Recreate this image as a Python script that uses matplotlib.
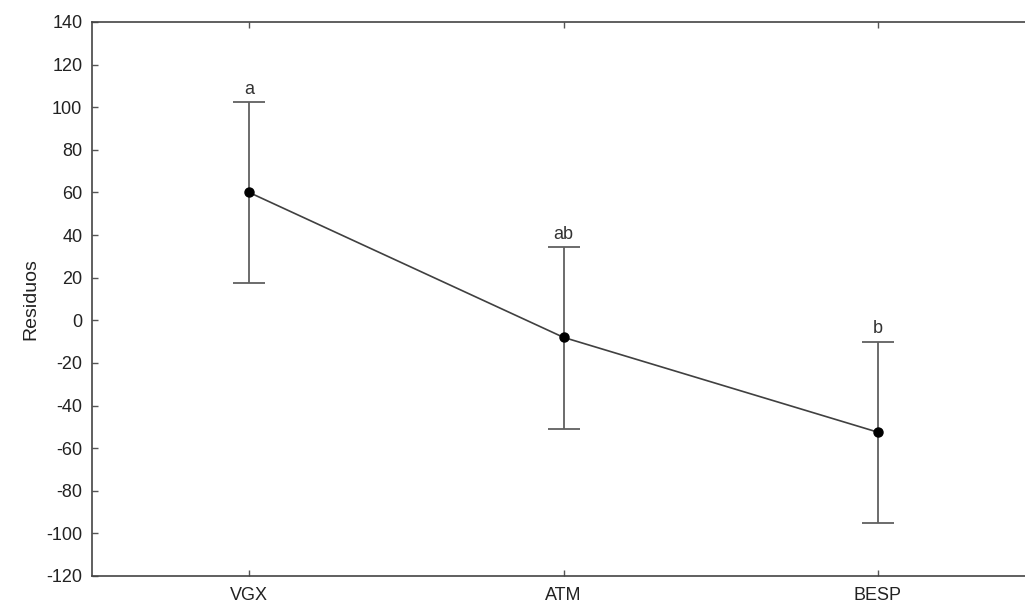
import matplotlib.pyplot as plt

plt.rcParams['font.family'] = ['Liberation Sans', 'DejaVu Sans']
plt.rcParams['axes.unicode_minus'] = False

grupos = ['VGX', 'ATM', 'BESP']
medias = [60.0, -8.0, -52.5]
erro_sup = [42.5, 42.5, 42.5]
erro_inf = [42.5, 43.0, 42.5]
letras = ['a', 'ab', 'b']

fig = plt.figure(figsize=(10.25, 6.13), dpi=100)
ax = fig.add_axes([92 / 1025, 1 - 576 / 613, 943 / 1025, 554 / 613])

x = list(range(len(grupos)))
ax.errorbar(x, medias, yerr=[erro_inf, erro_sup], fmt='none', ecolor='#606060',
            elinewidth=1.3, capsize=11.5, capthick=1.3)
ax.plot(x, medias, color='#404040', lw=1.2, marker='o', ms=6.5,
        mfc='black', mec='black')

for i in x:
    ax.text(i, medias[i] + erro_sup[i] + 2, letras[i], ha='center', va='bottom',
            fontsize=13, color='#333333')

ax.set_xlim(-0.5, 2.5)
ax.set_ylim(-120, 140)
ax.set_yticks(range(-120, 141, 20))
ax.set_xticks(x)
ax.set_xticklabels(grupos)
ax.tick_params(direction='in', top=True, right=True, length=4, width=1,
               color='#555555', labelsize=13, labelcolor='#222222')
ax.tick_params(axis='y', pad=7)
ax.tick_params(axis='x', pad=8)
for s in ax.spines.values():
    s.set_color('#444444')
    s.set_linewidth(1.2)
ax.set_ylabel('Residuos', fontsize=14, color='#222222', labelpad=5)

fig.savefig('out.png', dpi=100)
